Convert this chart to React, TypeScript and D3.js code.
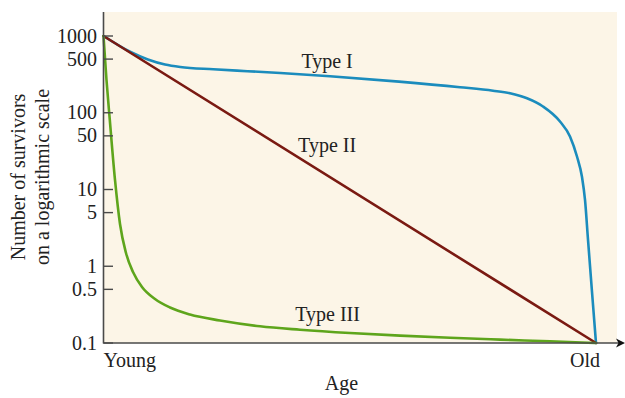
import React from 'react';
import * as d3 from 'd3';

// ---- Data ----
const typeIAges = [0, 5.5, 9.0, 12.49, 15.59, 22.29, 29.2, 35.9, 45.99, 60.0, 72.39, 79.09, 82.54, 85.99, 89.24, 92.69, 94.72, 96.14, 97.16, 97.77, 98.38, 99.19, 100];
const typeISurvivors = [1000, 618.7, 494, 425.3, 394.6, 368.3, 347.9, 329.6, 298.5, 254.6, 215.3, 193.8, 179.2, 154.3, 120.6, 76.9, 49.05, 26.9, 14.55, 7.3, 2.2, 0.462, 0.1];

const typeIIAges = [0, 100];
const typeIISurvivors = [1000, 0.1];

const typeIIIAges = [0, 0.609, 1.279, 2.335, 3.35, 4.569, 5.99, 7.817, 10.457, 13.5, 17.56, 23.65, 31.78, 39.9, 50.05, 60.2, 70.36, 80.51, 90.66, 100];
const typeIIISurvivors = [1000, 267, 80.5, 13.3, 3.55, 1.488, 0.841, 0.537, 0.3745, 0.29, 0.235, 0.1964, 0.165, 0.149, 0.135, 0.1249, 0.1169, 0.1107, 0.1052, 0.1];

const yTickValues = [1000, 500, 100, 50, 10, 5, 1, 0.5, 0.1];
const yTickLabels = ['1000', '500', '100', '50', '10', '5', '1', '0.5', '0.1'];
const xEndLabels = ['Young', 'Old'];
const seriesNames = ['Type I', 'Type II', 'Type III'];
const yTitleLines = ['Number of survivors', 'on a logarithmic scale'];
const xTitle = 'Age';

const W = 625;
const H = 398;
const FONT = "'Liberation Serif', 'Times New Roman', serif";

export default function App() {
  const x = d3.scaleLinear().domain([0, 100]).range([103.5, 596]);
  const y = d3.scaleLog().domain([0.1, 1000]).range([343, 36]);

  const plotLeft = 103.5;
  const plotRight = 617;
  const plotTop = 12;
  const plotBottom = 343;

  const line = d3
    .line<[number, number]>()
    .x((d) => x(d[0]))
    .y((d) => y(d[1]))
    .curve(d3.curveMonotoneX);

  const series = [
    { ages: typeIAges, vals: typeISurvivors, color: '#1b8cbd' },
    { ages: typeIIAges, vals: typeIISurvivors, color: '#7a1a12' },
    { ages: typeIIIAges, vals: typeIIISurvivors, color: '#5ea51c' },
  ];

  // label anchors in data space (age, survivors)
  const labelAnchors: [number, number][] = [
    [45.4, 383],
    [45.4, 30.8],
    [45.5, 0.194],
  ];

  const axisColor = '#4a4a4a';
  const textColor = '#222';

  return (
    <svg
      width={W}
      height={H}
      style={{ position: 'absolute', left: 0, top: 0, background: '#fff' }}
      fontFamily={FONT}
    >
      <rect
        x={plotLeft}
        y={plotTop}
        width={plotRight - plotLeft}
        height={plotBottom - plotTop}
        fill="#fcf5e7"
      />

      {series.map((s, i) => (
        <path
          key={i}
          d={line(s.ages.map((a, j) => [a, s.vals[j]] as [number, number])) || ''}
          fill="none"
          stroke={s.color}
          strokeWidth={2.6}
          strokeLinejoin="round"
          strokeLinecap="round"
        />
      ))}

      {/* y axis */}
      <line x1={plotLeft} x2={plotLeft} y1={plotTop} y2={plotBottom + 0.5} stroke={axisColor} strokeWidth={1.6} />
      {yTickValues.map((v, i) => (
        <g key={v}>
          <line x1={plotLeft} x2={plotLeft + 9.5} y1={y(v)} y2={y(v)} stroke={axisColor} strokeWidth={1.4} />
          <text
            x={97}
            y={y(v)}
            dy="0.33em"
            textAnchor="end"
            fontSize={20}
            fill={textColor}
          >
            {yTickLabels[i]}
          </text>
        </g>
      ))}

      {/* x axis with arrow */}
      <line x1={plotLeft} x2={620} y1={plotBottom} y2={plotBottom} stroke={axisColor} strokeWidth={1.6} />
      <path d={`M ${625} ${plotBottom} L ${616} ${plotBottom - 4.5} L ${618.5} ${plotBottom} L ${616} ${plotBottom + 4.5} Z`} fill="#111" />

      <text x={x(0)} y={367} textAnchor="start" fontSize={20} fill={textColor}>
        {xEndLabels[0]}
      </text>
      <text x={x(100) - 11} y={367} textAnchor="middle" fontSize={20} fill={textColor}>
        {xEndLabels[1]}
      </text>
      <text x={341.5} y={390} textAnchor="middle" fontSize={20} fill={textColor}>
        {xTitle}
      </text>

      {yTitleLines.map((t, i) => (
        <text
          key={t}
          transform={`translate(${25 + i * 24}, 177) rotate(-90)`}
          textAnchor="middle"
          fontSize={20}
          fill={textColor}
        >
          {t}
        </text>
      ))}

      {seriesNames.map((n, i) => (
        <text
          key={n}
          x={x(labelAnchors[i][0])}
          y={y(labelAnchors[i][1])}
          textAnchor="middle"
          fontSize={20}
          fill={textColor}
        >
          {n}
        </text>
      ))}
    </svg>
  );
}
